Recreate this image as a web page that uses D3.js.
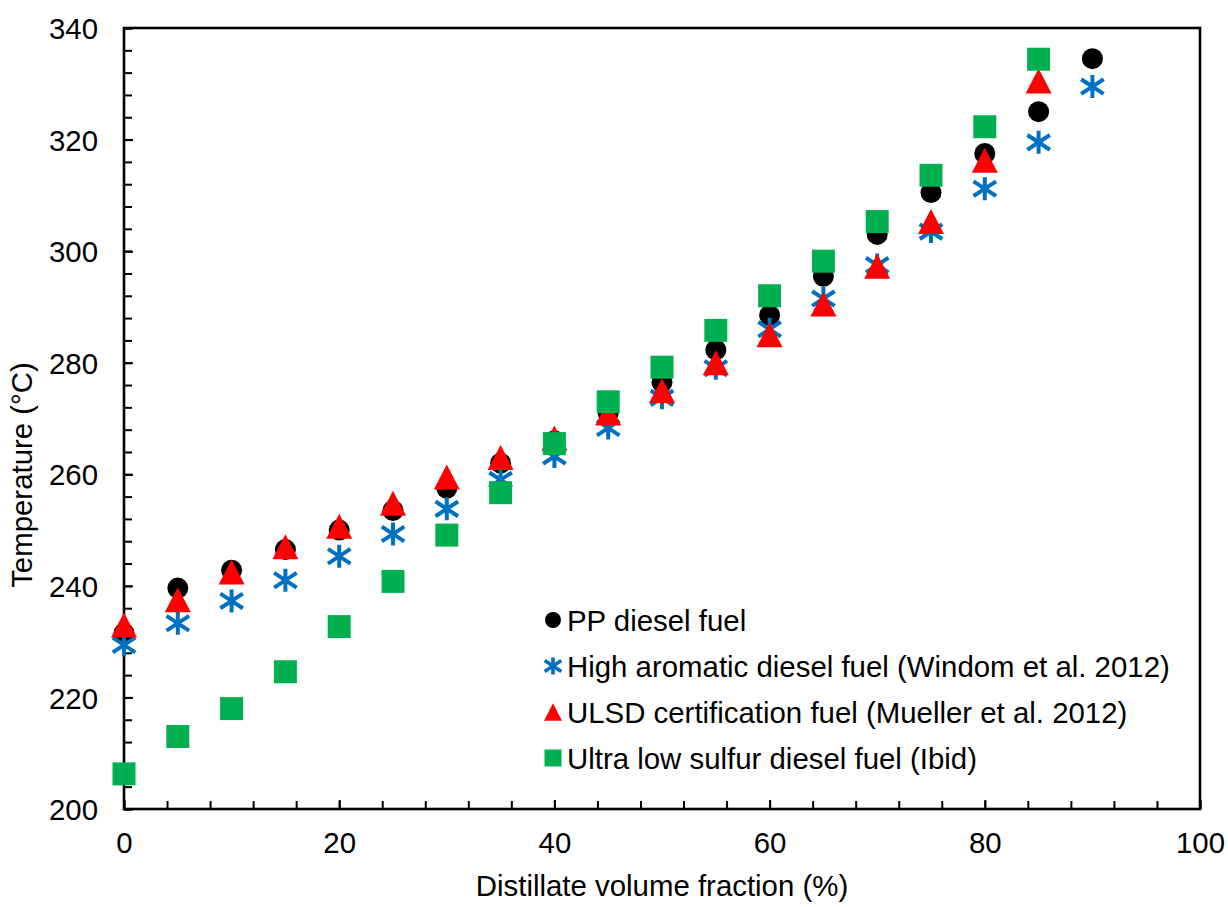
<!DOCTYPE html>
<html>
<head>
<meta charset="utf-8">
<script src="https://cdn.jsdelivr.net/npm/d3@7"></script>
<style>
  body { margin: 0; background: #fff; }
  svg text { font-family: Arial, "Liberation Sans", sans-serif; fill: #000; }
</style>
</head>
<body>
<div id="chart"></div>
<script>
// distillation curves: temperature at each recovered volume fraction
var fractions = [0, 5, 10, 15, 20, 25, 30, 35, 40, 45, 50, 55, 60, 65, 70, 75, 80, 85, 90];
var ppDiesel = [231.5, 239.6, 242.8, 246.5, 250, 253.5, 257.5, 262, 266, 271, 276.5, 282.3, 288.5, 295.5, 303, 310.5, 317.5, 325, 334.5];
var highAromatic = [229.4, 233.3, 237.3, 241, 245.3, 249.3, 253.8, 259, 263.2, 268.3, 273.7, 279, 286, 291.5, 297.5, 303.5, 311.2, 319.5, 329.5];
var ulsdCert = [233, 237.5, 242.5, 247, 250.7, 254.8, 259.5, 263, 266.5, 271, 275, 280, 285, 290.5, 297.3, 305.3, 316.3, 330.5];
var ulsDiesel = [206.3, 213, 218, 224.6, 232.7, 240.8, 249.1, 256.7, 265.5, 273, 279.2, 285.8, 292, 298.2, 305.3, 313.6, 322.3, 334.4];

var seriesNames = [
    "PP diesel fuel",
    "High aromatic diesel fuel (Windom et al. 2012)",
    "ULSD certification fuel (Mueller et al. 2012)",
    "Ultra low sulfur diesel fuel (Ibid)"
];
var xTicks = [0, 20, 40, 60, 80, 100];
var yTicks = [200, 220, 240, 260, 280, 300, 320, 340];

var width = 1228, height = 907;
var plotLeft = 124, plotRight = 1200, plotTop = 28, plotBottom = 809;
var fontSize = 29.4;

var x = d3.scaleLinear().domain([0, 100]).range([plotLeft, plotRight]);
var y = d3.scaleLinear().domain([200, 340]).range([plotBottom, plotTop]);

var svg = d3.select("#chart")
    .append("svg")
    .attr("width", width)
    .attr("height", height);

// marker shapes, each centred on its bounding box
function circlePath(s) {
    var r = s / 2;
    return "M" + (-r) + ",0A" + r + "," + r + " 0 1,0 " + r + ",0A" + r + "," + r + " 0 1,0 " + (-r) + ",0Z";
}
function trianglePath(s) {
    var w = s / 2, h = s * 0.96 / 2;
    return "M0," + (-h) + "L" + w + "," + h + "L" + (-w) + "," + h + "Z";
}
function squarePath(s) {
    var h = s / 2;
    return "M" + (-h) + "," + (-h) + "H" + h + "V" + h + "H" + (-h) + "Z";
}
function starPath(s) {
    var h = s / 2, d = h * 0.98;
    return "M0," + (-h) + "V" + h +
        "M" + (-d) + "," + (-h * 0.64) + "L" + d + "," + (h * 0.64) +
        "M" + (-d) + "," + (h * 0.64) + "L" + d + "," + (-h * 0.64);
}

var series = [
    { name: seriesNames[0], values: ppDiesel, shape: circlePath, size: 21, legendSize: 16, color: "#000000", stroke: false },
    { name: seriesNames[1], values: highAromatic, shape: starPath, size: 23, legendSize: 17, color: "#0070C0", stroke: true },
    { name: seriesNames[2], values: ulsdCert, shape: trianglePath, size: 26, legendSize: 18, color: "#FF0000", stroke: false },
    { name: seriesNames[3], values: ulsDiesel, shape: squarePath, size: 23, legendSize: 17, color: "#00B050", stroke: false }
];

// axes with inward minor ticks every 4 units
var minorX = d3.range(0, 101, 4);
var minorY = d3.range(200, 341, 4);

svg.append("g")
    .attr("transform", "translate(0," + plotBottom + ")")
    .call(d3.axisBottom(x).tickValues(minorX).tickSize(-8).tickFormat(""))
    .call(function (g) { g.select(".domain").remove(); })
    .selectAll("line").attr("stroke", "#000").attr("stroke-width", 2);

svg.append("g")
    .attr("transform", "translate(" + plotLeft + ",0)")
    .call(d3.axisLeft(y).tickValues(minorY).tickSize(-8).tickFormat(""))
    .call(function (g) { g.select(".domain").remove(); })
    .selectAll("line").attr("stroke", "#000").attr("stroke-width", 2);

var xAxis = svg.append("g")
    .attr("transform", "translate(0," + plotBottom + ")")
    .call(d3.axisBottom(x).tickValues(xTicks).tickSize(-9).tickPadding(44));
xAxis.select(".domain").remove();
xAxis.selectAll("line").attr("stroke", "#000").attr("stroke-width", 2);
xAxis.selectAll("text")
    .attr("font-size", fontSize)
    .attr("font-family", "Arial, 'Liberation Sans', sans-serif")
    .attr("dy", 0);

var yAxis = svg.append("g")
    .attr("transform", "translate(" + plotLeft + ",0)")
    .call(d3.axisLeft(y).tickValues(yTicks).tickSize(-9).tickPadding(26));
yAxis.select(".domain").remove();
yAxis.selectAll("line").attr("stroke", "#000").attr("stroke-width", 2);
yAxis.selectAll("text")
    .attr("font-size", fontSize)
    .attr("font-family", "Arial, 'Liberation Sans', sans-serif")
    .attr("dy", "0.36em");

// plot frame
svg.append("rect")
    .attr("x", plotLeft)
    .attr("y", plotTop)
    .attr("width", plotRight - plotLeft)
    .attr("height", plotBottom - plotTop)
    .attr("fill", "none")
    .attr("stroke", "#000")
    .attr("stroke-width", 2.6);

// data markers
series.forEach(function (s) {
    svg.append("g")
        .selectAll("path")
        .data(s.values)
        .enter()
        .append("path")
        .attr("transform", function (d, i) {
            return "translate(" + x(fractions[i]) + "," + y(d) + ")";
        })
        .attr("d", s.shape(s.size))
        .attr("fill", s.stroke ? "none" : s.color)
        .attr("stroke", s.stroke ? s.color : "none")
        .attr("stroke-width", s.stroke ? 4 : 0);
});

// legend
var legend = svg.append("g")
    .selectAll("g")
    .data(series)
    .enter()
    .append("g")
    .attr("transform", function (d, i) {
        return "translate(553," + (620 + i * 46) + ")";
    });

legend.append("path")
    .attr("d", function (d) { return d.shape(d.legendSize); })
    .attr("fill", function (d) { return d.stroke ? "none" : d.color; })
    .attr("stroke", function (d) { return d.stroke ? d.color : "none"; })
    .attr("stroke-width", function (d) { return d.stroke ? 3.6 : 0; });

legend.append("text")
    .attr("x", 14)
    .attr("dy", "0.36em")
    .attr("font-size", fontSize)
    .text(function (d) { return d.name; });

// axis titles
svg.append("text")
    .attr("x", (plotLeft + plotRight) / 2)
    .attr("y", 896)
    .attr("text-anchor", "middle")
    .attr("font-size", fontSize)
    .text("Distillate volume fraction (%)");

svg.append("text")
    .attr("transform", "translate(32,475) rotate(-90)")
    .attr("text-anchor", "middle")
    .attr("font-size", fontSize)
    .text("Temperature (°C)");
</script>
</body>
</html>
